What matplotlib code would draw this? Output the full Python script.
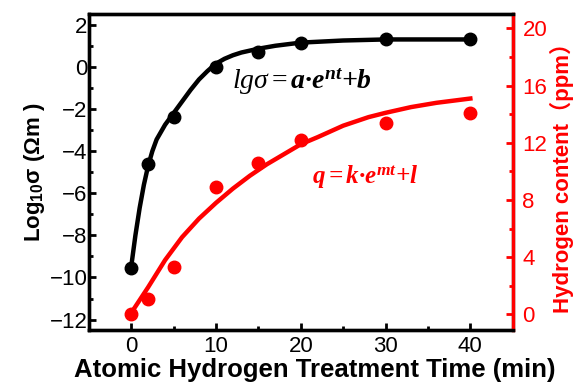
import matplotlib
matplotlib.use('Agg')
import matplotlib.pyplot as plt
from matplotlib.ticker import MultipleLocator

plt.rcParams['font.family'] = ['Liberation Sans', 'Noto Sans CJK SC', 'DejaVu Sans']
plt.rcParams['mathtext.fontset'] = 'custom'
plt.rcParams['mathtext.it'] = 'Liberation Serif:italic'
plt.rcParams['mathtext.bfit'] = 'Liberation Serif:italic:bold'
plt.rcParams['mathtext.rm'] = 'Liberation Serif'
plt.rcParams['mathtext.sf'] = 'Liberation Sans:bold'

# measured data
time_pts = [0, 2, 5, 10, 15, 20, 30, 40]
log_sigma = [-9.55, -4.6, -2.4, 0.0, 0.72, 1.15, 1.3, 1.3]
h_content = [0.0, 1.1, 3.3, 8.9, 10.6, 12.2, 13.4, 14.1]

# fitted curves
fit_t_sigma = [0, 0.5, 1, 1.5, 2, 2.5, 3, 4, 5, 6, 7, 8, 9, 10, 11, 12, 13, 15, 17, 20,
               25, 30, 35, 40]
fit_sigma = [-9.5, -8.0, -6.7, -5.6, -4.7, -4.0, -3.45, -2.75, -2.2, -1.65, -1.1, -0.6,
             -0.2, 0.15, 0.38, 0.55, 0.68, 0.86, 1.0, 1.15, 1.25, 1.3, 1.3, 1.3]
fit_t_h = [0, 2, 4, 6, 8, 10, 12, 14, 16, 18, 20, 22, 25, 28, 30, 33, 36, 40]
fit_h = [0.1, 1.9, 3.8, 5.4, 6.7, 7.8, 8.8, 9.7, 10.5, 11.2, 11.9, 12.4, 13.2, 13.8, 14.1,
         14.5, 14.8, 15.1]

fig = plt.figure(figsize=(5.84, 3.83), dpi=100)
ax1 = fig.add_axes([0.152, 0.138, 0.726, 0.825])
ax2 = ax1.twinx()

ax1.plot(fit_t_sigma, fit_sigma, color='black', lw=3.2)
ax1.plot(time_pts, log_sigma, 'o', color='black', ms=9)
ax2.plot(fit_t_h, fit_h, color='red', lw=3.2)
ax2.plot(time_pts, h_content, 'o', color='red', ms=9)

ax1.set_xlim(-5, 45)
ax1.set_ylim(-12.5, 2.5)
ax2.set_ylim(-1.1, 21)

ax1.xaxis.set_major_locator(MultipleLocator(10))
ax1.xaxis.set_minor_locator(MultipleLocator(5))
ax1.yaxis.set_major_locator(MultipleLocator(2))
ax1.yaxis.set_minor_locator(MultipleLocator(1))
ax2.yaxis.set_major_locator(MultipleLocator(4))
ax2.yaxis.set_minor_locator(MultipleLocator(2))

for ax in (ax1, ax2):
    for s in ax.spines.values():
        s.set_linewidth(2.4)
ax2.spines['right'].set_color('red')

ax1.tick_params(axis='both', which='major', direction='in', length=5, width=2, labelsize=16)
ax1.tick_params(axis='both', which='minor', direction='in', length=3, width=2)
ax1.tick_params(axis='y', which='major', pad=1)
ax1.tick_params(axis='x', which='major', pad=4)
ax1.tick_params(top=False, which='both')
ax2.tick_params(axis='y', which='major', direction='in', length=5, width=2, labelsize=16,
                colors='red', pad=7)
ax2.tick_params(axis='y', which='minor', direction='in', length=3, width=2, colors='red')

ax1.set_xlabel('Atomic Hydrogen Treatment Time (min)', fontsize=18.5, fontweight='bold')
ax1.xaxis.set_label_coords(0.533, -0.088)
ax1.set_ylabel(r'Log$_\mathsf{10}$σ (Ωm )', fontsize=16, fontweight='bold', labelpad=2)
ax2.set_ylabel('Hydrogen content（ppm）', fontsize=16, fontweight='bold', color='red',
               labelpad=2)

ax1.text(20.2, -0.7, r'$lg\sigma = \mathbfit{a·e^{nt}{+}b}$', fontsize=20,
         ha='center', va='center', color='black')
ax1.text(27.6, -5.25, r'$\mathbfit{q{=}k·e^{mt}{+}l}$', fontsize=18,
         ha='center', va='center', color='red')

fig.savefig('out.png', dpi=100)
